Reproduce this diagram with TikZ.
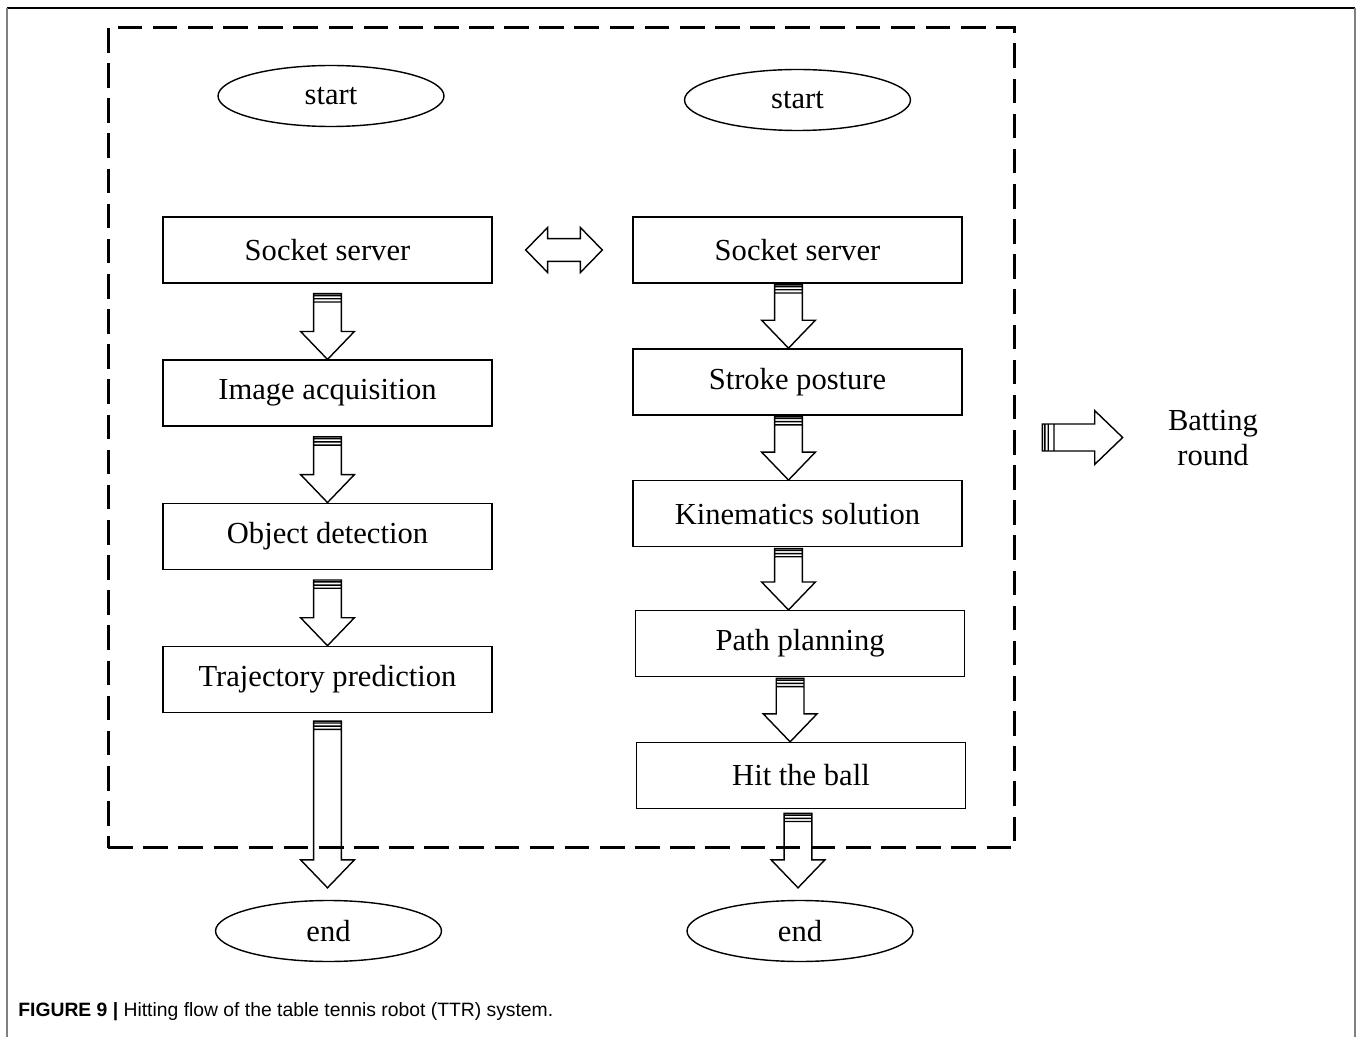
\documentclass[tikz,border=0pt]{standalone}
\usepackage{fontspec}
\setmainfont{Liberation Serif}
\newfontfamily\capfont{Liberation Sans}
\usetikzlibrary{positioning,shapes.geometric,calc}

\tikzset{
  box/.style={draw,line width=0.8pt,minimum width=6.58cm,minimum height=1.32cm,inner sep=0pt,font=\fontsize{17.4}{20.4}\selectfont},
  term/.style={draw,ellipse,line width=0.8pt,minimum width=4.52cm,minimum height=1.22cm,inner sep=0pt,font=\fontsize{17.4}{20.4}\selectfont},
  fat/.style={draw,line width=0.8pt}
}

% hollow arrows with a striped tail
\newcommand{\fatdown}[2]{%
  \draw[fat] let \p1=(#1), \p2=(#2) in
    (\x1-7.9pt,\y1) -- (\x1-7.9pt,\y2+15.9pt) -- (\x1-15.3pt,\y2+15.9pt) -- (\x1,\y2)
    -- (\x1+15.3pt,\y2+15.9pt) -- (\x1+7.9pt,\y2+15.9pt) -- (\x1+7.9pt,\y1) -- cycle
    (\x1-7.9pt,\y1-1.1pt) -- (\x1+7.9pt,\y1-1.1pt)
    (\x1-7.9pt,\y1-2.9pt) -- (\x1+7.9pt,\y1-2.9pt)
    (\x1-7.9pt,\y1-4.7pt) -- (\x1+7.9pt,\y1-4.7pt);}
\newcommand{\fatright}[2]{%
  \draw[fat] let \p1=(#1), \p2=(#2) in
    (\x1,\y1+7.7pt) -- (\x2-15.9pt,\y1+7.7pt) -- (\x2-15.9pt,\y1+15.3pt) -- (\x2,\y1)
    -- (\x2-15.9pt,\y1-15.3pt) -- (\x2-15.9pt,\y1-7.7pt) -- (\x1,\y1-7.7pt) -- cycle
    (\x1+1.4pt,\y1+7.7pt) -- (\x1+1.4pt,\y1-7.7pt)
    (\x1+3.3pt,\y1+7.7pt) -- (\x1+3.3pt,\y1-7.7pt)
    (\x1+6.6pt,\y1+7.7pt) -- (\x1+6.6pt,\y1-7.7pt);}
\newcommand{\fatboth}[2]{%
  \draw[fat] let \p1=(#1), \p2=(#2) in
    (\x1,\y1) -- (\x1+12.5pt,\y1+12.8pt) -- (\x1+12.5pt,\y1+6.5pt) -- (\x2-12.5pt,\y1+6.5pt)
    -- (\x2-12.5pt,\y1+12.8pt) -- (\x2,\y1) -- (\x2-12.5pt,\y1-12.8pt) -- (\x2-12.5pt,\y1-6.5pt)
    -- (\x1+12.5pt,\y1-6.5pt) -- (\x1+12.5pt,\y1-12.8pt) -- cycle;}

\begin{document}
\begin{tikzpicture}[x=0.02cm,y=-0.02cm]
    \useasboundingbox (0,0) rectangle (1360,1037);
    \draw[line width=1pt] (7,8) -- (1355,8);
    \draw[gray,line width=1.3pt] (7,8) -- (7,1037) (1355,8) -- (1355,1037);

    % vision side
    \node[term] (ls) at (331,96) {start};
    \node[box] (ls1) at (327.5,250) {Socket server};
    \node[box,below=1.515cm of ls1] (li) {Image acquisition};
    \node[box,below=1.515cm of li] (lo) {Object detection};
    \node[box,below=1.515cm of lo] (lt) {Trajectory prediction};
    \node[term] (le) at (328.5,931) {end};

    % robot side
    \node[term] (rs) at (797.5,100) {start};
    \node[box] (rs1) at (797.5,250) {Socket server};
    \node[box,below=1.29cm of rs1] (rp) {Stroke posture};
    \node[box,below=1.29cm of rp] (rk) {Kinematics solution};
    \node[box,below=1.25cm of rk,xshift=1.5] (rl) {Path planning};
    \node[box,below=1.29cm of rl,xshift=0.5] (rh) {Hit the ball};
    \node[term] (re) at (800,931) {end};

    \node[draw,dashed,line width=1.7pt,dash pattern=on 14pt off 6pt,minimum width=18.14cm,minimum height=16.42cm] (loop) at (561.5,437.5) {};
    \node[inner sep=0pt,align=center,font=\fontsize{17.4}{20.4}\selectfont] (bat) at (1213,438) {Batting\\round};

    \fatdown{$(ls1.south)+(0,10)$}{li.north}
    \fatdown{$(li.south)+(0,10)$}{lo.north}
    \fatdown{$(lo.south)+(0,10)$}{lt.north}
    \fatdown{$(lt.south)+(0,8)$}{$(le.north)+(0,-12)$}
    \fatdown{$(rs1.south)+(-9,1)$}{rp.north}
    \fatdown{$(rp.south)+(-9,1)$}{rk.north}
    \fatdown{$(rk.south)+(-9,1)$}{rl.north}
    \fatdown{$(rl.south)+(-10,1)$}{rh.north}
    \fatdown{$(rh.south)+(-3,4)$}{$(re.north)+(0,-12)$}
    \fatboth{$(ls1.east)+(33,0)$}{$(rs1.west)+(-30,0)$}
    \fatright{$(loop.east)+(26,0)$}{$(bat.west)+(-45,0)$}

    \node[anchor=base west,inner sep=0pt,font=\capfont\fontsize{11}{13}\selectfont] (cap) at (18,1016) {\textbf{FIGURE 9 |} Hitting flow of the table tennis robot (TTR) system.};
  \end{tikzpicture}
\end{document}
